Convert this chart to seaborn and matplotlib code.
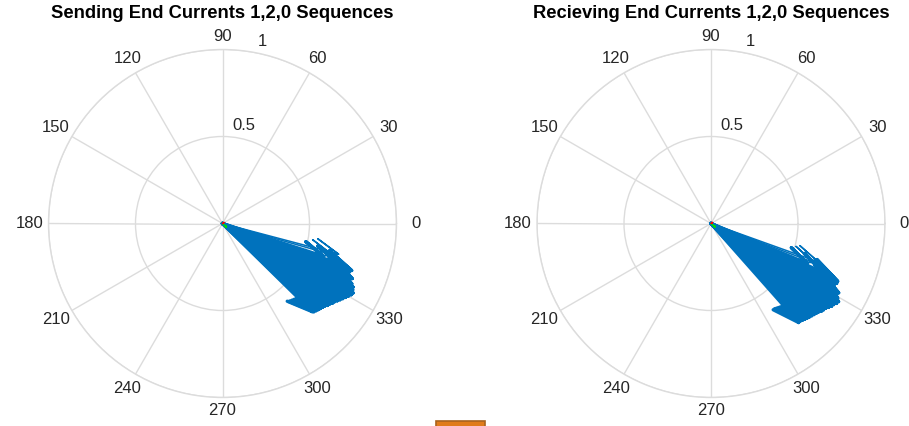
import numpy as np
import pandas as pd
import matplotlib
matplotlib.use('Agg')
import matplotlib.pyplot as plt
from matplotlib.patches import Rectangle
import seaborn as sns

TITLES = ['Sending End Currents 1,2,0 Sequences',
          'Recieving End Currents 1,2,0 Sequences']

# positive sequence phasors (angle deg, magnitude)
SEND_POS_ANG = [-14.8, -15.9, -18, -19, -20, -21, -22, -23, -24, -25, -26, -27, -28,
                -29, -30, -31, -32, -33, -34, -35, -36, -37, -38, -39, -40, -41,
                -42, -43, -44, -44.5]
SEND_POS_MAG = [0.69, 0.655, 0.61, 0.70, 0.79, 0.78, 0.78, 0.81, 0.80, 0.82, 0.835, 0.84,
                0.85, 0.845, 0.835, 0.825, 0.815, 0.805, 0.795, 0.785, 0.78, 0.77, 0.765,
                0.755, 0.75, 0.745, 0.74, 0.735, 0.73, 0.723]
RECV_POS_ANG = [-19.7, -20.8, -22.5, -23.5, -24.5, -25.5, -26.5, -27.5, -28.5, -29.5,
                -30.5, -31.5, -32.5, -33.5, -34.5, -35.5, -36.5, -37.5, -38.5, -39.5,
                -40.5, -41.5, -42.5, -43.5, -44.5, -45.5, -46.5, -47.5, -48.5]
RECV_POS_MAG = [0.655, 0.63, 0.60, 0.70, 0.80, 0.80, 0.79, 0.80, 0.835, 0.83, 0.845,
                0.86, 0.855, 0.845, 0.84, 0.83, 0.82, 0.815, 0.81, 0.80, 0.795, 0.79,
                0.785, 0.78, 0.775, 0.77, 0.765, 0.76, 0.76]
# the first two phasors of each set stand apart from the dense bundle
N_LOOSE = 2
# negative and zero sequence are tiny
SEND_NEG_ANG, SEND_NEG_MAG = [-42], [0.03]
SEND_ZERO_ANG, SEND_ZERO_MAG = [35], [0.01]
RECV_NEG_ANG, RECV_NEG_MAG = [-40], [0.03]
RECV_ZERO_ANG, RECV_ZERO_MAG = [35], [0.01]

THETA_TICKS = list(range(0, 360, 30))
R_TICKS = [0.5, 1.0]
R_TICK_LABELS = ['0.5', '1']

SEQ_COLORS = {'pos': '#0072BD', 'neg': '#00DD00', 'zero': '#FF0000'}
GRID = '#DCDCDC'
TXT = '#262626'


def compass_rows(angles, mags, seq, start, n_loose=0):
    # matlab compass arrow: 0 -> z -> barb -> z -> barb
    rows = []
    shape = np.array([0, 1, 0.8 + 0.08j, 1, 0.8 - 0.08j])
    for k, (a, m) in enumerate(zip(angles, mags)):
        z = m * np.exp(1j * np.deg2rad(a))
        kind = 'thin' if (k < n_loose or seq != 'pos') else 'bundle'
        for o, p in enumerate(shape * z):
            th = np.angle(p) if abs(p) > 0 else np.deg2rad(a)
            rows.append(dict(arrow=start + k, order=o, theta=th, r=abs(p), seq=seq, kind=kind))
    return rows


def build_df(pos, neg, zero):
    rows = compass_rows(*pos, 'pos', 0, N_LOOSE)
    rows += compass_rows(*neg, 'neg', 1000)
    rows += compass_rows(*zero, 'zero', 2000)
    return pd.DataFrame(rows)


sns.set_theme(style='white')
plt.rcParams['font.family'] = ['Liberation Sans', 'DejaVu Sans']

fig = plt.figure(figsize=(9.09, 4.26), dpi=100)
W, H = 909, 426
R_PX = 174
centers = [(222.5, 223.5), (711, 223.5)]
data = [build_df((SEND_POS_ANG, SEND_POS_MAG), (SEND_NEG_ANG, SEND_NEG_MAG), (SEND_ZERO_ANG, SEND_ZERO_MAG)),
        build_df((RECV_POS_ANG, RECV_POS_MAG), (RECV_NEG_ANG, RECV_NEG_MAG), (RECV_ZERO_ANG, RECV_ZERO_MAG))]

for (cx, cy), df, title in zip(centers, data, TITLES):
    ax = fig.add_axes([(cx - R_PX) / W, (H - cy - R_PX) / H, 2 * R_PX / W, 2 * R_PX / H],
                      projection='polar')
    sns.lineplot(data=df, x='theta', y='r', units='arrow', estimator=None, sort=False,
                 hue='seq', hue_order=['pos', 'neg', 'zero'], palette=SEQ_COLORS,
                 size='kind', sizes={'thin': 1.1, 'bundle': 2.4},
                 legend=False, ax=ax)
    ax.set_xlabel(''); ax.set_ylabel('')
    ax.set_ylim(0, 1)
    ax.set_thetagrids(THETA_TICKS, labels=[''] * len(THETA_TICKS))
    ax.set_rgrids(R_TICKS, labels=[''] * len(R_TICKS))
    ax.grid(True, color=GRID, linewidth=1.0)
    ax.spines['polar'].set_color(GRID)
    ax.spines['polar'].set_linewidth(1.0)
    ax.set_axisbelow(True)
    ax.tick_params(length=0)
    for a in THETA_TICKS:
        t = np.deg2rad(a)
        gap = 13 + 6 * abs(np.cos(t))
        ax.annotate(str(a), xy=(t, 1.0), xytext=(gap * np.cos(t), gap * np.sin(t)),
                    textcoords='offset pixels', ha='center', va='center',
                    fontsize=12, color=TXT, annotation_clip=False)
    for rv, lab in zip(R_TICKS, R_TICK_LABELS):
        ax.text(np.deg2rad(77.7), rv * 1.07 + 0.04 * (rv < 1), lab, ha='center', va='center',
                fontsize=12, color=TXT)
    ax.set_title(title, fontsize=13.2, fontweight='bold', color='black', y=1.0, pad=22.7)

# clipped corner of another panel at bottom edge
fig.patches.append(Rectangle((436 / W, -0.01), 49 / W, 5.5 / H + 0.01, transform=fig.transFigure,
                             facecolor='#E07B1A', edgecolor='#A8621E', linewidth=1.2))

fig.savefig('out.png', dpi=100)
